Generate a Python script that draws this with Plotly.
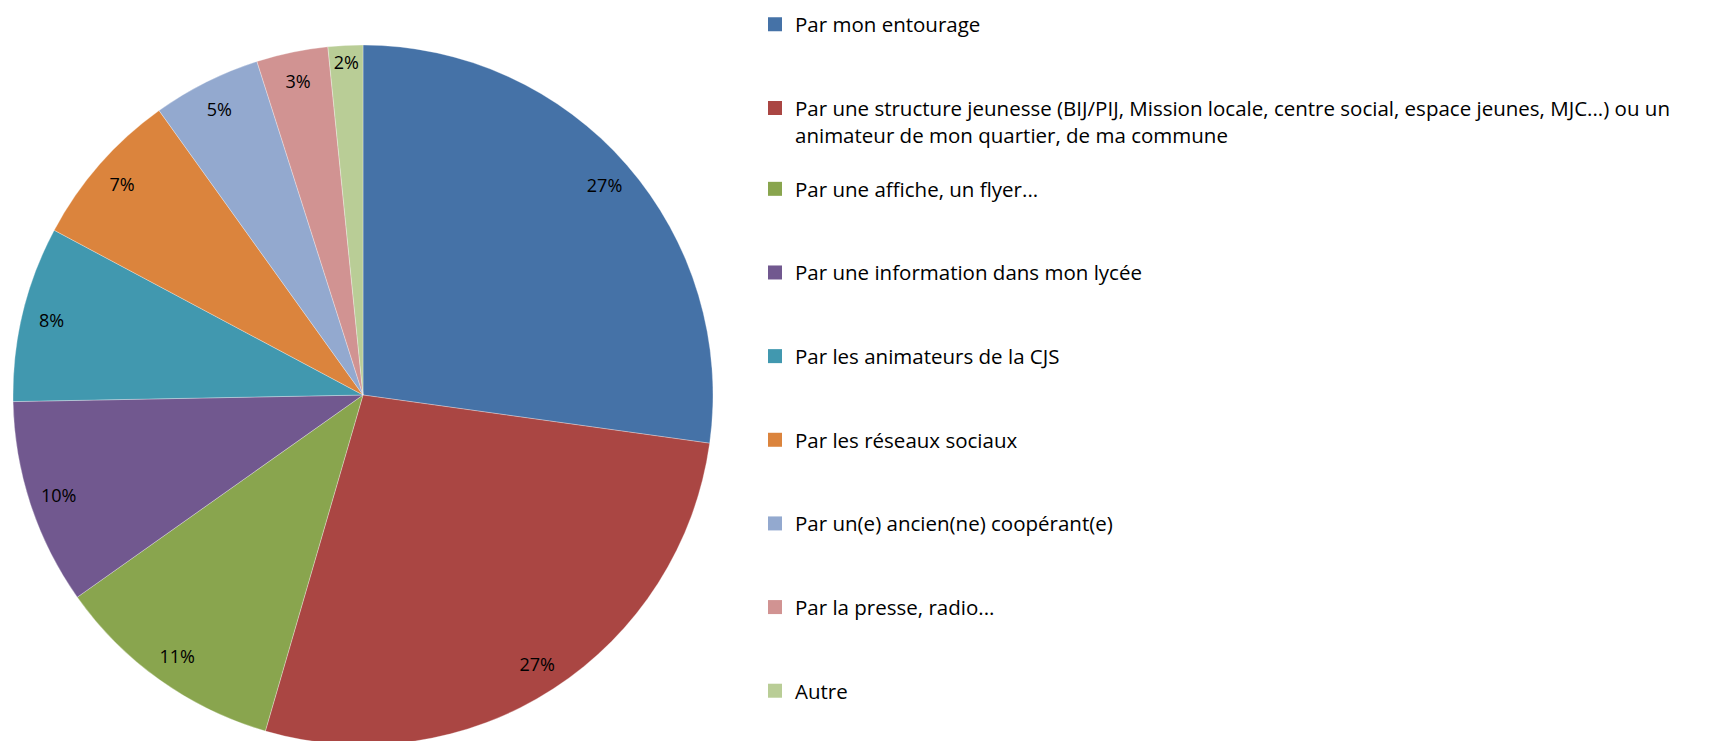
import plotly.graph_objects as go

categories = [
    "Par mon entourage",
    "Par une structure jeunesse (BIJ/PIJ, Mission locale, centre social, espace jeunes, MJC...) ou un animateur de mon quartier, de ma commune",
    "Par une affiche, un flyer...",
    "Par une information dans mon lycée",
    "Par les animateurs de la CJS",
    "Par les réseaux sociaux",
    "Par un(e) ancien(ne) coopérant(e)",
    "Par la presse, radio...",
    "Autre",
]
legend_labels = [
    "Par mon entourage",
    "Par une structure jeunesse (BIJ/PIJ, Mission locale, centre social, espace jeunes, MJC...) ou un<br>animateur de mon quartier, de ma commune",
    "Par une affiche, un flyer...",
    "Par une information dans mon lycée",
    "Par les animateurs de la CJS",
    "Par les réseaux sociaux",
    "Par un(e) ancien(ne) coopérant(e)",
    "Par la presse, radio...",
    "Autre",
]
values = [27.2, 27.3, 10.7, 9.5, 8.1, 7.3, 5.0, 3.3, 1.6]
colors = ["#4572A7", "#AA4643", "#89A54E", "#71588F", "#4198AF",
          "#DB843D", "#93A9CF", "#D19392", "#B9CD96"]

W, H = 1709, 741
dom = dict(x=[5 / W, 705 / W], y=[4 / H, 704 / H])

fig = go.Figure()
fig.add_trace(go.Pie(
    labels=categories, values=values, sort=False, direction="clockwise", rotation=0,
    marker=dict(colors=colors, line=dict(color="rgba(255,255,255,0.6)", width=0.5)),
    textinfo="none", showlegend=False, domain=dom, hoverinfo="label+percent",
))
fig.add_trace(go.Pie(
    labels=categories, values=values, sort=False, direction="clockwise", rotation=0,
    hole=0.83,
    marker=dict(colors=["rgba(0,0,0,0)"] * len(values), line=dict(width=0)),
    texttemplate="%{percent:.0%}", textposition="inside",
    insidetextorientation="horizontal",
    textfont=dict(family="Open Sans", size=18, color="black"),
    showlegend=False, domain=dom, hoverinfo="skip",
))
for i, (lab, col) in enumerate(zip(legend_labels, colors)):
    fig.add_trace(go.Scatter(
        x=[None], y=[None], mode="markers",
        marker=dict(symbol="square", size=14, color=col),
        name=lab, legendgroup=f"g{i}",
        legend="legend" if i < 2 else "legend2",
    ))

leg_common = dict(xanchor="left", yanchor="top", tracegroupgap=54, valign="top",
                  font=dict(family="Open Sans", size=20.5, color="black"),
                  bgcolor="rgba(0,0,0,0)", borderwidth=0, itemclick=False)
fig.update_layout(
    width=W, height=H, margin=dict(l=0, r=0, t=0, b=0, autoexpand=False),
    paper_bgcolor="white", plot_bgcolor="white",
    xaxis=dict(visible=False), yaxis=dict(visible=False),
    legend=dict(x=747 / W, y=1 + 3.5 / H, **leg_common),
    legend2=dict(x=747 / W, y=1 - 161 / H, **leg_common),
    uniformtext=dict(minsize=18, mode="show"),
)
fig.write_html("out.html")
